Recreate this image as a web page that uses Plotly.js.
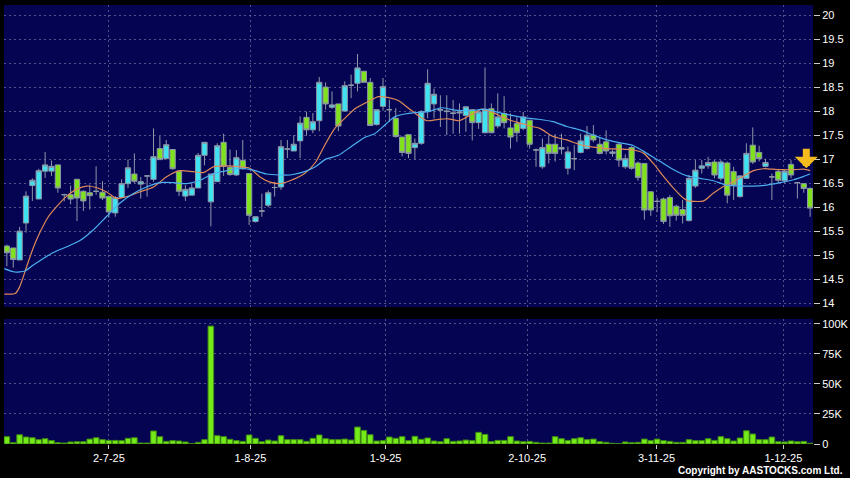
<!DOCTYPE html>
<html>
<head>
<meta charset="utf-8">
<script src="https://cdn.plot.ly/plotly-3.0.1.min.js"></script>
<style>html,body{margin:0;padding:0;background:#000;}#chart{width:850px;height:478px;}</style>
</head>
<body>
<div id="chart"></div>
<script>
// ---- Data ----
const openP = [15.19,15.15,14.90,15.67,16.45,16.17,16.75,16.75,16.88,16.26,
16.26,16.58,16.33,16.30,16.33,16.31,16.22,15.88,16.20,16.49,
16.69,16.48,16.65,16.58,17.22,17.01,17.20,16.75,16.23,16.25,
16.40,17.08,16.11,16.53,17.35,16.83,16.67,16.97,16.70,15.70,
15.92,16.04,16.41,16.42,17.21,17.17,17.38,17.87,17.61,17.80,
18.50,18.08,18.15,18.00,18.54,18.58,18.83,18.60,17.72,18.10,
18.03,17.85,17.46,17.51,17.24,17.33,17.99,18.15,18.02,17.99,
17.95,17.96,17.91,18.03,17.76,17.55,18.05,17.69,17.95,17.65,
17.74,17.64,17.81,17.19,16.84,17.31,17.31,17.24,16.81,17.01,
17.14,17.22,17.50,17.31,17.36,17.12,17.31,16.84,17.24,16.92,
16.91,16.32,16.12,16.17,16.20,16.02,15.95,15.72,16.44,16.81,
16.86,16.94,16.60,16.92,16.74,16.22,16.60,17.29,17.14,16.85,
16.63,16.74,16.55,16.89,16.51,16.49,16.39];
const highP = [15.22,15.15,15.59,16.33,16.60,16.80,17.15,16.97,16.88,16.28,
16.45,16.58,16.35,16.47,16.85,16.54,16.22,16.23,16.58,16.99,
17.12,16.63,16.66,17.64,17.48,17.40,17.20,16.77,16.46,16.50,
17.13,17.35,16.67,17.33,17.53,17.20,17.19,17.40,16.70,15.80,
16.28,16.35,16.53,17.40,17.40,17.50,17.89,17.99,17.96,18.71,
18.60,18.41,18.15,18.62,18.76,19.19,18.83,18.69,18.03,18.69,
18.24,18.06,17.46,17.51,17.43,18.02,18.87,18.47,18.33,18.33,
18.23,18.16,18.09,18.03,18.03,18.91,18.16,18.37,18.31,17.95,
17.87,17.98,17.81,17.22,17.43,17.50,17.52,17.53,17.26,17.29,
17.53,17.69,17.71,17.45,17.60,17.20,17.35,17.10,17.27,16.95,
16.91,16.32,16.20,16.20,16.25,16.05,16.15,16.67,16.98,16.98,
17.05,16.98,16.98,16.95,16.84,16.67,17.33,17.66,17.28,17.01,
16.70,16.80,16.78,16.98,16.52,16.50,16.41];
const lowP = [14.77,14.74,14.90,15.47,16.13,16.17,16.61,16.65,16.30,16.12,
16.06,15.71,15.92,15.95,16.26,16.15,15.78,15.80,16.20,16.40,
16.50,16.18,16.22,16.53,16.99,17.00,16.78,16.23,16.13,16.25,
16.40,16.87,15.60,16.53,16.65,16.65,16.65,16.78,15.63,15.68,
15.80,16.00,16.22,16.36,17.02,17.17,17.02,17.49,17.54,17.58,
18.03,18.05,17.58,18.00,18.27,18.41,18.60,17.70,17.70,18.01,
17.78,17.45,17.06,17.02,16.99,17.30,17.85,17.85,17.67,17.50,
17.53,17.53,17.57,17.39,17.63,17.54,17.55,17.64,17.64,17.22,
17.36,17.60,17.22,16.84,16.80,16.91,16.95,17.10,16.68,16.77,
17.12,17.20,17.35,17.10,17.10,17.05,16.84,16.80,16.78,16.55,
15.74,15.82,15.90,15.65,15.59,15.72,15.66,15.70,16.40,16.70,
16.80,16.60,16.55,16.08,16.15,16.20,16.60,16.90,16.95,16.83,
16.15,16.50,16.50,16.60,16.18,16.30,15.80];
const closeP = [15.05,14.91,15.50,16.23,16.56,16.76,16.88,16.85,16.40,16.26,
16.17,16.19,16.13,16.24,16.33,16.19,15.90,16.20,16.49,16.82,
16.54,16.53,16.65,17.05,16.99,17.30,16.80,16.33,16.37,16.40,
17.08,17.35,16.69,17.28,16.85,16.68,17.03,16.80,15.83,15.80,
15.92,16.30,16.41,17.26,17.21,17.31,17.75,17.61,17.78,18.60,
18.15,18.13,17.69,18.53,18.54,18.90,18.60,17.70,18.03,18.51,
18.03,17.47,17.14,17.12,17.33,17.99,18.58,18.35,18.03,18.00,
17.96,17.98,18.09,17.76,17.98,18.03,17.55,17.88,17.76,17.46,
17.55,17.88,17.31,17.19,17.24,17.12,17.12,17.21,17.15,17.01,
17.38,17.50,17.40,17.12,17.17,17.15,16.98,17.01,16.81,16.62,
15.94,15.94,16.12,15.70,15.82,15.83,15.83,16.60,16.77,16.86,
16.93,16.67,16.94,16.25,16.46,16.65,17.12,16.94,17.01,16.93,
16.63,16.56,16.75,16.67,16.51,16.39,15.98];
const volume = [6100,1100,7700,5800,5200,3600,4400,2800,1100,800,
1700,1900,1900,4100,5200,3600,3000,3000,2800,4700,
5200,800,800,10800,6100,2200,2800,2500,1700,300,
1400,3600,98000,6900,6100,3900,2800,2200,7500,4700,
1900,3300,2500,6900,3600,3600,3600,2200,4700,7500,
4400,3600,3600,4100,3300,14100,11300,7700,2500,2800,
5800,4700,6100,2800,6400,3900,5000,2500,1900,4400,
2200,2500,3300,2800,9700,8000,1900,3000,3000,6100,
2500,1900,2200,1400,800,800,6100,4400,3000,4400,
5200,3600,4100,1900,1400,600,300,1700,1100,1400,
4100,2800,4100,2800,2200,1400,1400,3600,2800,2800,
4400,3000,6100,4400,2500,5000,11000,8300,3600,3600,
5800,1900,1700,2500,1900,2200,600];
// moving averages, read at sampled day positions
const maShortDay = [-0.4,1.3,2.0,3.1,4.1,5.1,6.5,7.8,9.3,10.9,12.5,14.0,15.6,17.2,18.8,20.9,23.0,25.0,27.1,29.2,30.8,32.4,34.5,36.6,38.1,39.7,41.3,42.8,44.4,46.7,48.4,49.9,51.5,53.0,54.6,56.7,58.3,59.9,61.4,63.0,64.6,65.9,67.7,69.3,70.9,73.0,74.5,76.1,77.7,79.2,80.8,82.4,83.6,85.7,87.8,89.9,92.0,94.1,96.2,98.3,99.9,101.4,103.0,104.6,106.1,106.9,109.3,110.8,112.4,114.0,115.6,117.1,118.7,120.2,121.8,123.4,125.0,126.0];
const maShort = [14.19,14.20,14.34,14.76,15.14,15.45,15.80,16.01,16.22,16.37,16.44,16.41,16.32,16.18,16.22,16.32,16.42,16.63,16.76,16.74,16.72,16.84,16.86,16.84,16.81,16.63,16.52,16.49,16.55,16.70,16.93,17.30,17.65,17.85,18.05,18.20,18.30,18.28,18.22,18.06,17.90,17.80,17.83,17.84,17.80,17.94,18.04,17.98,17.88,17.80,17.74,17.68,17.64,17.47,17.40,17.30,17.25,17.22,17.21,17.19,17.12,16.91,16.64,16.39,16.19,16.13,16.13,16.29,16.43,16.53,16.65,16.76,16.80,16.79,16.78,16.78,16.79,16.76];
const maLongDay = [-0.4,1.2,2.8,4.1,5.7,7.2,9.3,11.4,13.5,15.6,17.7,19.8,21.9,24.0,26.1,28.2,30.3,32.4,34.5,36.6,38.6,40.7,42.8,44.4,46.7,48.4,49.9,52.0,54.0,56.1,57.7,59.3,60.8,62.4,64.0,66.1,68.2,70.3,72.9,75.0,77.2,79.2,81.3,83.4,85.7,87.8,89.9,92.0,94.1,96.2,98.3,100.4,102.5,104.6,106.7,108.7,110.8,112.9,115.0,117.1,119.2,121.3,123.4,125.0,126.0];
const maLong = [14.72,14.65,14.67,14.79,14.93,15.05,15.17,15.30,15.52,15.80,16.08,16.28,16.42,16.51,16.51,16.49,16.56,16.70,16.76,16.81,16.77,16.69,16.67,16.67,16.74,16.84,16.99,17.08,17.26,17.45,17.53,17.71,17.88,17.94,17.97,17.99,18.07,18.02,18.01,18.04,17.97,17.91,17.86,17.83,17.78,17.68,17.61,17.50,17.40,17.34,17.28,17.12,16.95,16.78,16.65,16.60,16.55,16.46,16.44,16.44,16.46,16.51,16.57,16.64,16.69];
const tickDay = [16, 38.2, 59.4, 81.6, 101.9, 121.8];
const tickLabels = ['2-7-25','1-8-25','1-9-25','2-10-25','3-11-25','1-12-25'];
const volTickVals = [0, 25000, 50000, 75000, 100000];
const volTickLabels = ['0','25K','50K','75K','100K'];
const signalDay = 125.4, signalPrice = 16.81;

// ---- Chart ----
const days = openP.map((_, i) => i);
const gridCol = 'rgba(135,135,175,0.6)';
const fontFam = 'Arial, "Liberation Sans", sans-serif';

const traces = [
  {type:'bar', x:days, y:volume, xaxis:'x', yaxis:'y',
   marker:{color:'#74ea18', line:{color:'#3f8a12', width:1}}, hoverinfo:'skip'},
  {type:'candlestick', x:days, open:openP, high:highP, low:lowP, close:closeP,
   xaxis:'x2', yaxis:'y2', whiskerwidth:0,
   increasing:{line:{color:'#8d97a8', width:1}, fillcolor:'#3fe2f0'},
   decreasing:{line:{color:'#8d97a8', width:1}, fillcolor:'#80e21c'},
   hoverinfo:'skip'},
  {type:'scatter', mode:'lines', x:maShortDay, y:maShort, xaxis:'x2', yaxis:'y2',
   line:{color:'#e08a58', width:1.2, shape:'spline', smoothing:0.6}, hoverinfo:'skip'},
  {type:'scatter', mode:'lines', x:maLongDay, y:maLong, xaxis:'x2', yaxis:'y2',
   line:{color:'#4cb0f0', width:1.2, shape:'spline', smoothing:0.6}, hoverinfo:'skip'}
];

const xCommon = {
  range:[-0.45, 126.45], showgrid:true, gridcolor:gridCol, griddash:'2px,3px', gridwidth:1,
  zeroline:false, showline:false, tickvals:tickDay, ticktext:tickLabels,
  rangeslider:{visible:false}, fixedrange:true
};

const layout = {
  width:850, height:478,
  paper_bgcolor:'#000000', plot_bgcolor:'#040452',
  margin:{l:4, r:37, t:5, b:34},
  showlegend:false, boxgap:0.18, boxgroupgap:0, bargap:0.12,
  font:{family:fontFam, size:11, color:'#ffffff'},
  xaxis:Object.assign({}, xCommon, {domain:[0,1], anchor:'y', ticks:'outside', ticklen:4,
     tickcolor:'#cccccc', tickfont:{family:fontFam, size:11, color:'#ffffff'}}),
  xaxis2:Object.assign({}, xCommon, {domain:[0,1], anchor:'y2', matches:'x', showticklabels:false, ticks:''}),
  yaxis:{domain:[0,0.285], range:[0,104000], side:'right', tickvals:volTickVals, ticktext:volTickLabels,
     ticks:'outside', ticklen:6, tickcolor:'#cccccc', showgrid:true, gridcolor:gridCol, griddash:'2px,3px',
     zeroline:false, showline:false, fixedrange:true, tickfont:{family:fontFam, size:11, color:'#ffffff'}},
  yaxis2:{domain:[0.312,1], range:[13.92,20.21], side:'right', tick0:14, dtick:0.5,
     ticks:'outside', ticklen:6, tickcolor:'#cccccc', showgrid:true, gridcolor:gridCol, griddash:'2px,3px',
     zeroline:false, showline:false, fixedrange:true, tickfont:{family:fontFam, size:11, color:'#ffffff'}},
  annotations:[
    {xref:'x2', yref:'y2', x:signalDay, y:signalPrice, ax:0, ay:-21, showarrow:true,
     arrowhead:1, arrowsize:0.55, arrowwidth:7, arrowcolor:'#f4bb1c', text:''},
    {xref:'paper', yref:'paper', x:1.0396, y:-0.0615, xanchor:'right', yanchor:'middle', showarrow:false,
     text:'<b>Copyright by AASTOCKS.com Ltd.</b>', font:{family:fontFam, size:10, color:'#ffffff'}}
  ]
};

Plotly.newPlot('chart', traces, layout, {staticPlot:true, displayModeBar:false});
</script>
</body>
</html>
